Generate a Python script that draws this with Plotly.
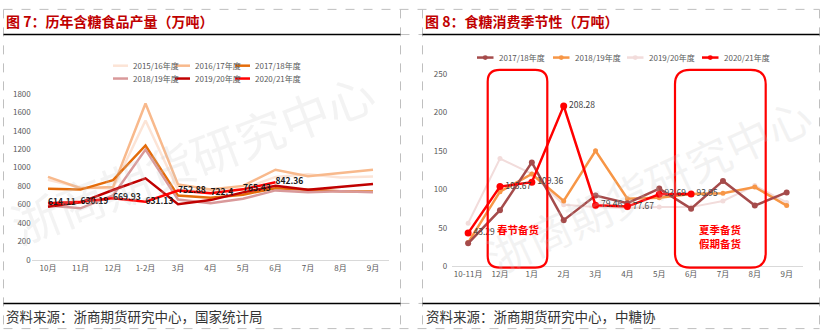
import plotly.graph_objects as go

W, H = 823, 336

# ---------------- data: left chart (production) ----------------
prod_months = ["10月", "11月", "12月", "1-2月", "3月", "4月", "5月", "6月", "7月", "8月", "9月"]
prod_names = ["2015/16年度", "2016/17年度", "2017/18年度", "2018/19年度", "2019/20年度", "2020/21年度"]
prod_1516 = [870, 785, 775, 1510, 760, 745, 770, 900, 928, 895, 905]
prod_1617 = [900, 778, 790, 1695, 818, 765, 803, 978, 907, 942, 977]
prod_1718 = [771, 763, 865, 1240, 698, 674, 708, 778, 761, 745, 743]
prod_1819 = [590, 560, 700, 1195, 656, 614, 663, 754, 735, 745, 733]
prod_1920 = [577, 625, 758, 885, 605, 649, 733, 803, 761, 789, 823]
prod_2021 = [614.11, 630.19, 669.93, 631.13, 752.88, 722.4, 765.43, 842.36, None, None, None]
prod_series = [prod_1516, prod_1617, prod_1718, prod_1819, prod_1920, prod_2021]
prod_colors = ["#FCE4D6", "#F8B98C", "#E46C0A", "#D9999A", "#C00000", "#FF0000"]

# ---------------- data: right chart (consumption seasonality) ----------------
cons_months = ["10-11月", "12月", "1月", "2月", "3月", "4月", "5月", "6月", "7月", "8月", "9月"]
cons_names = ["2017/18年度", "2018/19年度", "2019/20年度", "2020/21年度"]
cons_1718 = [30, 73, 135, 60, 92, 82, 101, 75, 111, 79, 96]
cons_1819 = [31, 97, 120, 85, 150, 88, 89, 94, 95, 103, 79]
cons_1920 = [56, 140, 120, 80, 77, 76, 77, 77, 85, 105, 83]
cons_2021 = [43.29, 103.67, 109.36, 208.28, 79.46, 77.67, 93.69, 93.95, None, None, None]
cons_series = [cons_1718, cons_1819, cons_1920, cons_2021]
cons_colors = ["#A54B4B", "#F79646", "#F2DCDB", "#FF0000"]

FONT = "Noto Sans CJK SC"

def px(x):
    return x / W

def py(y):
    return 1 - y / H

fig = go.Figure()

# left chart traces
for name, vals, col in zip(prod_names, prod_series, prod_colors):
    is_last = name == prod_names[-1]
    fig.add_trace(go.Scatter(
        x=prod_months, y=vals, name=name,
        mode="lines+text" if is_last else "lines",
        line=dict(color=col, width=2.5),
        text=[("%g" % v) if v is not None else "" for v in vals] if is_last else None,
        textposition="middle right",
        textfont=dict(family=FONT, size=8.5, color="#1a1a1a", weight="bold"),
        xaxis="x", yaxis="y", showlegend=False, hoverinfo="skip", cliponaxis=False,
    ))

# right chart traces (draw order: pink, orange, brown, red)
order = [2, 1, 0, 3]
msize = [6, 5, 5, 7]
lwid = [2.5, 2.5, 2, 2.5]
for i in order:
    name, vals, col = cons_names[i], cons_series[i], cons_colors[i]
    is_last = i == 3
    fig.add_trace(go.Scatter(
        x=cons_months, y=vals, name=name,
        mode="lines+markers+text" if is_last else "lines+markers",
        line=dict(color=col, width=lwid[i]),
        marker=dict(color=col, size=msize[i]),
        text=[("%.2f" % v).rstrip("0").rstrip(".") if v is not None else "" for v in vals] if is_last else None,
        textposition="middle right",
        textfont=dict(family=FONT, size=8.5, color="#404040"),
        xaxis="x2", yaxis="y2", showlegend=False, hoverinfo="skip", cliponaxis=False,
    ))

shapes = []
annotations = []

def note(x, y, text, font, xanchor="center", yanchor="middle", **kw):
    d = dict(xref="paper", yref="paper", x=px(x), y=py(y), text=text, showarrow=False,
             xanchor=xanchor, yanchor=yanchor, font=font)
    d.update(kw)
    annotations.append(d)

# panel borders (dashed gray)
dash = dict(color="#BFBFBF", width=1, dash="dash")
for x in [3.5, 400.5, 422.5, 819.5]:
    shapes.append(dict(type="line", xref="paper", yref="paper", x0=px(x), x1=px(x), y0=py(3.5), y1=py(333.5), line=dash))
for y in [3.5, 333.5]:
    shapes.append(dict(type="line", xref="paper", yref="paper", x0=px(3.5), x1=px(819.5), y0=py(y), y1=py(y), line=dash))
for y in [29.5, 307.5]:
    shapes.append(dict(type="line", xref="paper", yref="paper", x0=px(400.5), x1=px(422.5), y0=py(y), y1=py(y), line=dash))
    for a, b in [(3.5, 400.5), (422.5, 819.5)]:
        shapes.append(dict(type="line", xref="paper", yref="paper", x0=px(a), x1=px(b), y0=py(y), y1=py(y), line=dict(color="#000000", width=1.6)))

# titles
for x, t in [(4, "图 7：历年含糖食品产量（万吨）"), (423, "图 8：食糖消费季节性（万吨）")]:
    note(x, 15.5, t, dict(family=FONT, size=14, color="#C00000", weight="bold"), xanchor="left")
# sources
for x, t in [(4, "资料来源：浙商期货研究中心，国家统计局"), (424, "资料来源：浙商期货研究中心，中糖协")]:
    note(x, 320.5, t, dict(family=FONT, size=13.5, color="#333333"), xanchor="left")

# watermarks
note(192, 156, "浙商期货研究中心", dict(family=FONT, size=48, color="rgba(200,200,200,0.22)"), textangle=-21)
note(648, 185, "浙商期货研究中心", dict(family=FONT, size=44, color="rgba(200,200,200,0.22)"), textangle=-25)

# manual legend, left chart (2 rows x 3 cols)
lcols = [113, 175, 235]
lrows = [61.7, 75]
for k, (name, col) in enumerate(zip(prod_names, prod_colors)):
    x0 = lcols[k % 3]
    y0 = lrows[k // 3]
    shapes.append(dict(type="line", xref="paper", yref="paper", x0=px(x0), x1=px(x0 + 15), y0=py(y0), y1=py(y0),
                       line=dict(color=col, width=2.5)))
    note(x0 + 18, y0, name, dict(family=FONT, size=8, color="#595959"), xanchor="left")

# manual legend, right chart (1 row)
rcols = [477, 553, 627, 702]
ry = 53.3
for k, (name, col) in enumerate(zip(cons_names, cons_colors)):
    x0 = rcols[k]
    shapes.append(dict(type="line", xref="paper", yref="paper", x0=px(x0), x1=px(x0 + 16.5), y0=py(ry), y1=py(ry),
                       line=dict(color=col, width=2.5)))
    cx = x0 + 8.25
    r = 2.5
    shapes.append(dict(type="circle", xref="paper", yref="paper", x0=px(cx - r), x1=px(cx + r), y0=py(ry + r), y1=py(ry - r),
                       fillcolor=col, line=dict(color=col, width=0)))
    note(x0 + 19.5, ry, name, dict(family=FONT, size=8, color="#595959"), xanchor="left")

# highlight boxes (rounded rectangles) on right chart
def rrect(x0, x1, ytop, ybot, r):
    rx, ry_ = r / W, r / H
    X0, X1, Yt, Yb = px(x0), px(x1), py(ytop), py(ybot)
    return (f"M {X0+rx},{Yt} L {X1-rx},{Yt} Q {X1},{Yt} {X1},{Yt-ry_} "
            f"L {X1},{Yb+ry_} Q {X1},{Yb} {X1-rx},{Yb} L {X0+rx},{Yb} Q {X0},{Yb} {X0},{Yb+ry_} "
            f"L {X0},{Yt-ry_} Q {X0},{Yt} {X0+rx},{Yt} Z")

for (a, b, r) in [(487.7, 547.3, 12), (675, 765.7, 15)]:
    shapes.append(dict(type="path", xref="paper", yref="paper", path=rrect(a, b, 66, 270.5, r),
                       line=dict(color="#FF0000", width=2.2)))

note(518, 230.7, "春节备货", dict(family=FONT, size=10.5, color="#FF0000", weight="bold"))
note(720, 238, "夏季备货<br>假期备货", dict(family=FONT, size=10.5, color="#FF0000", weight="bold"))

tickfont = dict(family=FONT, size=8, color="#595959")
fig.update_layout(
    width=W, height=H, margin=dict(l=0, r=0, t=0, b=0),
    paper_bgcolor="white", plot_bgcolor="white",
    showlegend=False,
    shapes=shapes, annotations=annotations,
    xaxis=dict(domain=[px(31.75), px(389.25)], anchor="y", type="category", range=[-0.5, 10.5],
               showline=True, linecolor="#D9D9D9", linewidth=1, showgrid=False, zeroline=False,
               ticks="", tickfont=tickfont, fixedrange=True),
    yaxis=dict(domain=[py(262.7), py(90.7)], anchor="x", range=[0, 1800], dtick=200,
               showline=False, showgrid=False, zeroline=False, ticks="", tickfont=tickfont, fixedrange=True),
    xaxis2=dict(domain=[px(452.2), px(802.6)], anchor="y2", type="category", range=[-0.5, 10.5],
                showline=True, linecolor="#D9D9D9", linewidth=1, showgrid=False, zeroline=False,
                ticks="", tickfont=tickfont, fixedrange=True),
    yaxis2=dict(domain=[py(269.3), py(70)], anchor="x2", range=[0, 250], dtick=50,
                showline=False, showgrid=False, zeroline=False, ticks="", tickfont=tickfont, fixedrange=True,
                ticklabelstandoff=4),
)

fig.write_html("out.html")
